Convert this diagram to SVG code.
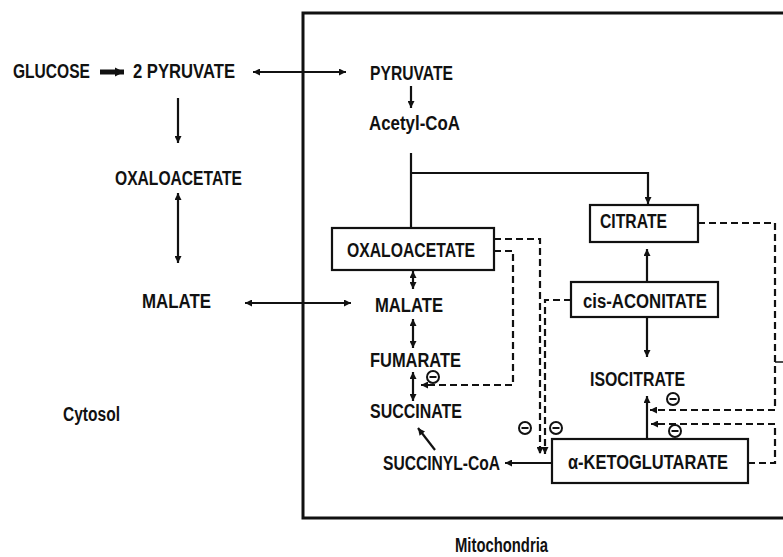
<svg xmlns="http://www.w3.org/2000/svg" width="783" height="557" viewBox="0 0 783 557">
<style>
text{font-family:"Liberation Sans Narrow","Liberation Sans",Arial,sans-serif;font-weight:bold;font-size:20px;fill:#111}
.box{fill:#fff;stroke:#111;stroke-width:2.2}
.c{stroke:#111;stroke-width:2.2;fill:none}
.d{stroke:#111;stroke-width:2.2;fill:none;stroke-dasharray:7 4}
.inh circle{fill:#fff;stroke:#111;stroke-width:2}
.inh line{stroke:#111;stroke-width:2}
</style>
<defs>
<marker id="ah" viewBox="0 0 10 10" refX="10" refY="5" markerWidth="8" markerHeight="7" markerUnits="userSpaceOnUse" orient="auto-start-reverse">
<path d="M0,0 L10,5 L0,10 z" fill="#111"/>
</marker>
<marker id="ahb" viewBox="0 0 10 10" refX="10" refY="5" markerWidth="9" markerHeight="10" markerUnits="userSpaceOnUse" orient="auto">
<path d="M0,0 L10,5 L0,10 z" fill="#111"/>
</marker>
</defs>
<rect id="mitochondria-membrane" x="303" y="13" width="500" height="505" fill="none" stroke="#111" stroke-width="3"/>
<g id="connectors">
<line x1="100" y1="72" x2="124" y2="72" stroke="#111" stroke-width="5" marker-end="url(#ahb)"/>
<line class="c" x1="253" y1="72" x2="346" y2="72" marker-start="url(#ah)" marker-end="url(#ah)"/>
<line class="c" x1="178" y1="98" x2="178" y2="143" marker-end="url(#ah)"/>
<line class="c" x1="178" y1="193" x2="178" y2="263" marker-start="url(#ah)" marker-end="url(#ah)"/>
<line class="c" x1="245" y1="303" x2="351" y2="303" marker-start="url(#ah)" marker-end="url(#ah)"/>
<line class="c" x1="411" y1="86" x2="411" y2="108" marker-end="url(#ah)"/>
<path class="c" d="M411,153 V228" stroke-width="2.6"/>
<path class="c" d="M411,173 H648 V204" stroke-width="2.6" marker-end="url(#ah)"/>
<line class="c" x1="413" y1="271" x2="413" y2="289" marker-start="url(#ah)" marker-end="url(#ah)"/>
<line class="c" x1="413" y1="319" x2="413" y2="348" marker-start="url(#ah)" marker-end="url(#ah)"/>
<line class="c" x1="413" y1="372" x2="413" y2="401" marker-start="url(#ah)" marker-end="url(#ah)"/>
<line class="c" x1="435" y1="450" x2="418" y2="428" marker-end="url(#ah)"/>
<line class="c" x1="552" y1="463" x2="505" y2="463" marker-end="url(#ah)"/>
<line class="c" x1="647" y1="282" x2="647" y2="249" marker-end="url(#ah)"/>
<line class="c" x1="647" y1="317" x2="647" y2="357" marker-end="url(#ah)"/>
<line class="c" x1="647" y1="439" x2="647" y2="396" marker-end="url(#ah)"/>
<path class="d" d="M494,239 H540 V454" marker-end="url(#ah)"/>
<path class="d" d="M494,251 H513 V385 H421" marker-end="url(#ah)"/>
<path class="d" d="M571,300 H545 V454" marker-end="url(#ah)"/>
<path class="d" d="M698,223 H775 V410 H650" marker-end="url(#ah)"/>
<path class="d" d="M748,463 H775 V424 H651" marker-end="url(#ah)"/>
<line x1="775" y1="362" x2="783" y2="362" stroke="#111" stroke-width="1.5"/>
</g>
<g id="inhibitors" class="inh">
<g id="inh1"><circle cx="433" cy="377" r="6"/><line x1="429.5" y1="377" x2="436.5" y2="377"/></g>
<g id="inh2"><circle cx="525" cy="428" r="6"/><line x1="521.5" y1="428" x2="528.5" y2="428"/></g>
<g id="inh3"><circle cx="556" cy="428" r="6"/><line x1="552.5" y1="428" x2="559.5" y2="428"/></g>
<g id="inh4"><circle cx="673" cy="399" r="6"/><line x1="669.5" y1="399" x2="676.5" y2="399"/></g>
<g id="inh5"><circle cx="675" cy="431" r="6"/><line x1="671.5" y1="431" x2="678.5" y2="431"/></g>
</g>
<g id="glucose"><text x="13" y="78" textLength="77" lengthAdjust="spacingAndGlyphs">GLUCOSE</text></g>
<g id="pyruvate-cyto"><text x="133" y="78" textLength="102" lengthAdjust="spacingAndGlyphs">2 PYRUVATE</text></g>
<g id="oaa-cyto"><text x="115" y="185" textLength="127" lengthAdjust="spacingAndGlyphs">OXALOACETATE</text></g>
<g id="malate-cyto"><text x="142" y="308" textLength="69" lengthAdjust="spacingAndGlyphs">MALATE</text></g>
<g id="cytosol"><text x="63" y="421" textLength="57" lengthAdjust="spacingAndGlyphs">Cytosol</text></g>
<g id="pyruvate-mito"><text x="370" y="80" textLength="83" lengthAdjust="spacingAndGlyphs">PYRUVATE</text></g>
<g id="acetyl-coa"><text x="369" y="130" textLength="91" lengthAdjust="spacingAndGlyphs">Acetyl-CoA</text></g>
<g id="oaa-mito"><rect class="box" x="332" y="228" width="162" height="42"/><text x="347" y="257" textLength="128" lengthAdjust="spacingAndGlyphs">OXALOACETATE</text></g>
<g id="malate-mito"><text x="375" y="312" textLength="68" lengthAdjust="spacingAndGlyphs">MALATE</text></g>
<g id="fumarate"><text x="370" y="367" textLength="91" lengthAdjust="spacingAndGlyphs">FUMARATE</text></g>
<g id="succinate"><text x="370" y="418" textLength="92" lengthAdjust="spacingAndGlyphs">SUCCINATE</text></g>
<g id="succinyl-coa"><text x="383" y="470" textLength="117" lengthAdjust="spacingAndGlyphs">SUCCINYL-CoA</text></g>
<g id="citrate"><rect class="box" x="590" y="205" width="108" height="37"/><text x="600" y="228" textLength="67" lengthAdjust="spacingAndGlyphs">CITRATE</text></g>
<g id="cis-aconitate"><rect class="box" x="571" y="282" width="147" height="35"/><text x="583" y="308" textLength="124" lengthAdjust="spacingAndGlyphs">cis-ACONITATE</text></g>
<g id="isocitrate"><text x="590" y="386" textLength="95" lengthAdjust="spacingAndGlyphs">ISOCITRATE</text></g>
<g id="alpha-kg"><rect class="box" x="552" y="439" width="196" height="44"/><text x="568" y="469" textLength="160" lengthAdjust="spacingAndGlyphs">α-KETOGLUTARATE</text></g>
<g id="mitochondria"><text x="455" y="552" font-size="18" textLength="93" lengthAdjust="spacingAndGlyphs">Mitochondria</text></g>
</svg>
